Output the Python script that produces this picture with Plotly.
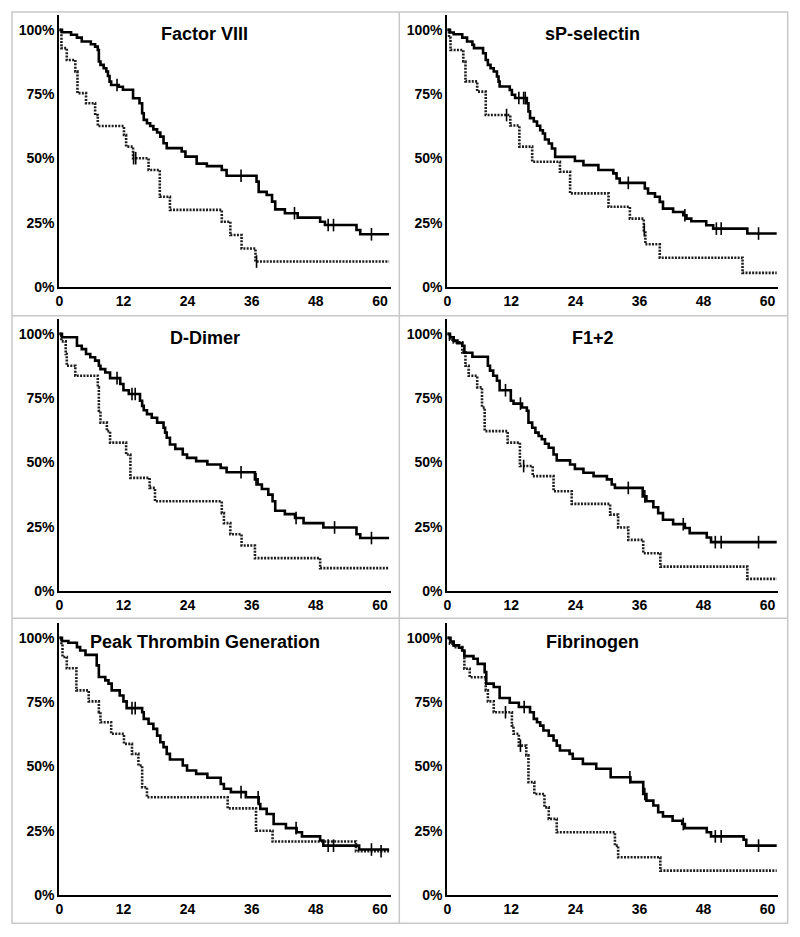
import numpy as np
import plotly.graph_objects as go

# the page body has an 8px margin; the figure is sized/positioned to compensate
OFF = 8
W, H = 800 - 2 * OFF, 937 - 2 * OFF
followup_end = 61.7

titles = ["Factor VIII", "sP-selectin", "D-Dimer", "F1+2",
          "Peak Thrombin Generation", "Fibrinogen"]
x_ticks = [0, 12, 24, 36, 48, 60]
y_ticks = [0, 0.25, 0.5, 0.75, 1.0]
y_tick_labels = ["0%", "25%", "50%", "75%", "100%"]

# ---------------- Factor VIII ----------------
fviii_solid_t = [0.5, 2.2, 3.3, 4.2, 5.9, 6.7, 7.2, 7.4, 7.7, 8.3, 8.8, 9.1, 9.4, 9.7, 11.1, 11.9, 13.8, 15.0, 15.5, 15.8,
                 16.4, 17.0, 17.6, 18.3, 18.9, 19.5, 20.1, 22.9, 23.6, 25.7, 27.6, 30.4, 31.3, 36.9, 37.3, 38.8, 39.8, 40.4, 42.2, 44.6,
                 48.8, 49.7, 55.6, 56.3]
fviii_solid_s = [99.1, 98.1, 97.0, 95.5, 94.4, 93.5, 92.2, 87.7, 86.4, 85.1, 83.8, 82.1, 79.9, 78.6, 77.9, 76.7, 73.4, 71.5, 67.6, 65.0,
                 63.7, 62.6, 61.3, 60.1, 58.5, 55.9, 54.0, 52.7, 50.7, 48.0, 47.0, 45.5, 43.3, 41.0, 37.0, 35.8, 33.2, 30.2, 28.7, 27.0,
                 25.4, 24.1, 22.2, 20.5]
fviii_solid_cens = [10.8, 34.0, 44.0, 50.3, 51.3, 58.4]
fviii_dot_t = [0.4, 1.4, 3.0, 3.4, 5.0, 6.7, 7.2, 12.1, 12.5, 13.8, 16.7, 18.8, 20.7, 30.4, 32.0, 34.1, 36.7]
fviii_dot_s = [92.9, 88.3, 83.8, 75.4, 71.5, 66.9, 62.6, 59.1, 54.6, 50.1, 45.5, 35.1, 30.0, 25.4, 20.2, 15.0, 9.9]
fviii_dot_cens = [13.9, 14.3, 36.9]

# ---------------- sP-selectin ----------------
sp_solid_t = [0.5, 1.2, 2.8, 3.7, 4.7, 5.0, 6.7, 7.2, 7.6, 8.1, 8.7, 9.3, 9.6, 9.8, 11.7, 12.1, 12.7, 14.9, 15.2, 15.5,
              16.2, 16.8, 17.4, 17.9, 18.3, 19.0, 19.6, 20.2, 23.9, 25.5, 28.3, 31.1, 31.7, 32.3, 37.0, 37.6, 38.9, 39.8, 40.4, 42.3,
              44.2, 44.8, 45.7, 48.5, 49.8, 56.2]
sp_solid_s = [99.0, 98.3, 97.0, 95.5, 94.2, 92.9, 90.9, 88.3, 86.4, 85.1, 83.8, 81.9, 79.9, 78.0, 76.6, 74.8, 73.5, 71.5, 68.3, 65.7,
              64.4, 62.7, 61.0, 59.7, 57.4, 55.8, 53.9, 50.6, 49.0, 47.4, 45.5, 44.2, 42.2, 40.5, 38.3, 36.4, 35.1, 33.1, 30.5, 29.2,
              27.9, 26.6, 25.6, 24.0, 22.7, 20.8]
sp_solid_cens = [13.4, 14.3, 14.6, 33.9, 44.5, 50.4, 51.3, 58.3]
sp_dot_t = [0.3, 0.6, 3.0, 3.4, 5.6, 7.2, 11.8, 13.5, 15.9, 21.1, 23.0, 30.2, 34.2, 36.8, 37.1, 39.8, 55.3]
sp_dot_s = [96.9, 92.2, 87.7, 80.0, 76.0, 66.9, 62.8, 54.6, 48.7, 44.8, 36.4, 31.2, 26.6, 22.1, 16.6, 11.4, 5.5]
sp_dot_cens = [11.1, 36.9]

# ---------------- D-Dimer ----------------
dd_solid_t = [0.5, 3.3, 4.2, 5.0, 5.8, 6.7, 7.4, 7.7, 8.6, 9.5, 11.4, 12.0, 13.0, 15.1, 15.5, 15.8, 16.4, 17.3, 18.3, 19.5,
              19.8, 20.1, 20.7, 21.7, 23.1, 23.9, 25.6, 27.7, 30.2, 31.3, 36.6, 37.1, 37.9, 39.1, 39.9, 40.4, 42.2, 44.1, 45.7, 49.4,
              55.6, 56.3]
dd_solid_s = [98.7, 95.4, 94.1, 92.2, 90.9, 89.6, 87.6, 86.3, 85.0, 82.8, 80.5, 78.1, 76.6, 74.0, 72.0, 70.3, 68.8, 67.4, 65.5, 63.5,
              61.6, 59.6, 57.0, 55.3, 53.1, 51.8, 50.5, 49.2, 47.9, 46.2, 43.4, 41.4, 39.7, 37.5, 34.9, 31.2, 29.9, 28.4, 26.4, 24.7,
              22.1, 20.6]
dd_solid_cens = [10.8, 13.6, 14.2, 34.0, 36.8, 44.3, 51.5, 58.4]
dd_dot_t = [0.4, 1.2, 1.4, 3.0, 7.2, 7.4, 7.7, 8.9, 9.5, 12.5, 13.3, 16.9, 17.9, 30.4, 30.8, 32.0, 34.1, 36.6, 48.8]
dd_dot_s = [97.1, 92.2, 87.6, 83.7, 79.2, 70.1, 65.5, 62.2, 57.7, 53.1, 44.0, 40.1, 34.9, 30.3, 26.4, 22.1, 17.7, 12.8, 8.9]
dd_dot_cens = []

# ---------------- F1+2 ----------------
f12_solid_t = [0.5, 1.2, 1.9, 2.8, 3.2, 4.7, 7.6, 8.0, 8.6, 9.3, 9.8, 11.9, 12.4, 14.0, 14.9, 15.2, 15.9, 16.5, 17.1, 17.7,
               18.3, 19.0, 19.9, 20.5, 23.0, 23.9, 25.5, 27.4, 29.9, 30.8, 31.4, 36.6, 37.3, 38.6, 39.5, 40.4, 42.3, 44.5, 45.4, 48.6,
               49.4]
f12_solid_s = [98.7, 97.4, 96.4, 95.4, 92.7, 91.1, 87.6, 85.7, 83.7, 81.8, 78.1, 74.0, 72.9, 71.4, 70.1, 65.5, 63.5, 61.6, 60.3, 59.0,
               57.3, 55.7, 53.1, 50.8, 49.2, 47.5, 46.0, 44.7, 43.4, 41.4, 40.1, 36.8, 34.9, 32.6, 30.3, 27.7, 26.0, 24.5, 22.5, 20.8,
               19.0]
f12_solid_cens = [10.9, 13.7, 33.9, 37.0, 44.2, 50.2, 51.3, 58.3]
f12_dot_t = [0.5, 1.2, 2.8, 3.4, 4.0, 5.6, 6.5, 7.0, 11.3, 13.6, 16.0, 19.9, 23.3, 30.5, 32.0, 33.9, 36.7, 39.9, 56.2]
f12_dot_s = [97.7, 96.7, 92.8, 87.6, 83.7, 79.2, 71.4, 62.2, 57.7, 48.6, 44.7, 38.8, 33.9, 29.7, 24.7, 19.9, 14.7, 9.5, 4.7]
f12_dot_cens = [14.3]

# ---------------- Peak Thrombin Generation ----------------
ptg_solid_t = [0.5, 1.7, 3.3, 3.9, 4.9, 7.0, 7.4, 8.6, 9.2, 9.8, 11.3, 12.0, 12.6, 15.5, 15.8, 16.7, 17.6, 18.3, 18.9, 19.5,
               20.1, 20.7, 23.1, 23.9, 25.6, 27.7, 30.2, 30.8, 32.1, 34.9, 37.3, 37.6, 38.8, 40.1, 42.4, 44.4, 45.4, 48.8, 49.4, 56.1]
ptg_solid_s = [98.8, 98.1, 96.4, 95.1, 93.4, 89.3, 84.8, 83.5, 82.2, 79.6, 77.6, 75.3, 72.7, 71.1, 68.5, 66.6, 64.6, 62.0, 59.4, 57.5,
               54.9, 52.7, 50.4, 48.4, 47.1, 45.6, 43.2, 41.3, 40.0, 38.0, 35.4, 33.5, 31.5, 27.6, 26.0, 24.4, 22.8, 21.2, 19.2, 17.7]
ptg_solid_cens = [13.6, 14.2, 34.0, 37.2, 44.3, 50.3, 51.3, 58.4]
ptg_dot_t = [0.4, 0.6, 1.4, 3.2, 5.5, 7.4, 7.7, 9.7, 12.1, 13.6, 14.8, 15.5, 16.4, 31.5, 36.8, 39.9, 55.5]
ptg_dot_s = [97.4, 92.6, 88.2, 79.6, 75.3, 71.1, 67.2, 62.7, 58.8, 54.9, 50.4, 41.9, 38.0, 33.7, 25.0, 20.8, 17.0]
ptg_dot_cens = [60.2]

# ---------------- Fibrinogen ----------------
fib_solid_t = [0.6, 1.2, 2.2, 2.8, 3.2, 4.9, 5.7, 7.0, 7.3, 8.7, 9.8, 11.7, 13.4, 15.5, 16.2, 16.8, 17.4, 18.0, 19.0, 19.9,
               20.5, 21.1, 22.9, 23.5, 25.4, 27.9, 30.6, 34.3, 36.7, 37.3, 38.6, 39.5, 40.4, 42.2, 44.0, 44.5, 48.6, 49.4, 55.5, 56.0]
fib_solid_s = [98.6, 97.1, 96.2, 95.1, 92.9, 91.9, 89.9, 86.7, 82.2, 80.9, 76.6, 74.8, 73.1, 71.1, 68.5, 67.2, 65.9, 64.0, 62.0, 60.1,
               58.1, 56.2, 54.9, 53.0, 51.0, 49.1, 45.8, 43.9, 39.3, 36.7, 34.8, 32.2, 30.6, 28.9, 27.6, 26.0, 24.4, 22.8, 21.5, 19.2]
fib_solid_cens = [14.4, 34.2, 37.0, 44.2, 50.2, 51.3, 58.3]
fib_dot_t = [0.5, 1.2, 2.8, 3.2, 4.2, 7.2, 7.6, 8.7, 12.1, 12.4, 13.4, 14.8, 15.2, 16.3, 18.2, 19.0, 20.5, 31.4, 32.0, 39.9]
fib_dot_s = [97.7, 96.4, 94.5, 88.0, 84.7, 79.6, 75.3, 71.1, 65.9, 62.7, 58.1, 54.3, 43.9, 39.3, 34.1, 29.6, 24.4, 19.2, 14.7, 9.5]
fib_dot_cens = [10.9, 13.7]

panels = [
    (fviii_solid_t, fviii_solid_s, fviii_solid_cens, fviii_dot_t, fviii_dot_s, fviii_dot_cens),
    (sp_solid_t, sp_solid_s, sp_solid_cens, sp_dot_t, sp_dot_s, sp_dot_cens),
    (dd_solid_t, dd_solid_s, dd_solid_cens, dd_dot_t, dd_dot_s, dd_dot_cens),
    (f12_solid_t, f12_solid_s, f12_solid_cens, f12_dot_t, f12_dot_s, f12_dot_cens),
    (ptg_solid_t, ptg_solid_s, ptg_solid_cens, ptg_dot_t, ptg_dot_s, ptg_dot_cens),
    (fib_solid_t, fib_solid_s, fib_solid_cens, fib_dot_t, fib_dot_s, fib_dot_cens),
]

# layout geometry (page pixels)
col_x = [(59.3, 390.7), (447.3, 778.3)]
row_y = [(15, 287), (319, 591), (623, 895)]

FONT = "Arial, Liberation Sans, Helvetica, sans-serif"


def px(xp):
    return (xp - OFF) / W


def py(yp):
    return 1 - (yp - OFF) / H


def step_value(t_arr, s_arr, tc):
    if len(tc) == 0:
        return []
    t_arr = np.asarray(t_arr)
    s_arr = np.asarray(s_arr) / 100.0
    idx = np.searchsorted(t_arr, np.asarray(tc), side="right") - 1
    return list(np.where(idx < 0, 1.0, s_arr[np.clip(idx, 0, None)]))


fig = go.Figure()
layout = dict(
    template="none",
    width=W, height=H, autosize=False,
    margin=dict(l=0, r=0, t=0, b=0, pad=0),
    paper_bgcolor="white", plot_bgcolor="white",
    showlegend=False,
    font=dict(family=FONT, color="black"),
)
annotations = []

for i, (st, ss, sc, dt, ds, dc) in enumerate(panels):
    r, c = divmod(i, 2)
    n = i + 1
    xa = "x" if n == 1 else f"x{n}"
    ya = "y" if n == 1 else f"y{n}"

    # dotted group
    fig.add_trace(go.Scatter(
        x=[0] + list(dt) + [followup_end],
        y=[1.0] + [v / 100 for v in ds] + [ds[-1] / 100],
        mode="lines", line=dict(shape="hv", color="#1e1e1e", width=2.6, dash="2px,1.3px"),
        xaxis=xa, yaxis=ya, hoverinfo="skip"))
    # solid group
    fig.add_trace(go.Scatter(
        x=[0] + list(st) + [followup_end],
        y=[1.0] + [v / 100 for v in ss] + [ss[-1] / 100],
        mode="lines", line=dict(shape="hv", color="black", width=2.6),
        xaxis=xa, yaxis=ya, hoverinfo="skip"))
    # censor marks
    cx = list(sc) + list(dc)
    cy = step_value(st, ss, sc) + step_value(dt, ds, dc)
    fig.add_trace(go.Scatter(
        x=cx, y=cy, mode="markers",
        marker=dict(symbol="line-ns-open", size=9, color="black",
                    line=dict(color="black", width=1.6)),
        xaxis=xa, yaxis=ya, hoverinfo="skip", cliponaxis=False))

    x0, x1 = col_x[c]
    y0, y1 = row_y[r]
    key_x = "xaxis" if n == 1 else f"xaxis{n}"
    key_y = "yaxis" if n == 1 else f"yaxis{n}"
    layout[key_x] = dict(
        domain=[px(x0), px(x1)], range=[0, 62], anchor=ya, automargin=False,
        tickvals=x_ticks, ticks="", showgrid=False, zeroline=False,
        showline=True, linecolor="black", linewidth=2,
        tickfont=dict(family=FONT, size=14, color="black", weight="bold"),
        fixedrange=True)
    layout[key_y] = dict(
        domain=[py(y1), py(y0)], range=[0, 1.058], anchor=xa, automargin=False,
        tickvals=y_ticks, ticktext=y_tick_labels, ticks="", showgrid=False, zeroline=False,
        showline=True, linecolor="black", linewidth=2,
        tickfont=dict(family=FONT, size=14, color="black", weight="bold"),
        fixedrange=True)
    annotations.append(dict(
        text=titles[i], x=27.2, y=0.985, xref=xa, yref=ya,
        xanchor="center", yanchor="middle", showarrow=False,
        font=dict(family=FONT, size=18, color="black", weight="bold")))

# panel borders
bc = "#c8c8c8"
shapes = [
    dict(type="rect", xref="paper", yref="paper", x0=px(12), x1=px(787.7),
         y0=py(923.3), y1=py(12), line=dict(color=bc, width=1.5)),
    dict(type="line", xref="paper", yref="paper", x0=px(399.3), x1=px(399.3),
         y0=py(923.3), y1=py(12), line=dict(color=bc, width=1.5)),
    dict(type="line", xref="paper", yref="paper", x0=px(12), x1=px(787.7),
         y0=py(315.7), y1=py(315.7), line=dict(color=bc, width=1.5)),
    dict(type="line", xref="paper", yref="paper", x0=px(12), x1=px(787.7),
         y0=py(618.3), y1=py(618.3), line=dict(color=bc, width=1.5)),
]
layout["annotations"] = annotations
layout["shapes"] = shapes
fig.update_layout(**layout)

fig.write_html("out.html")
